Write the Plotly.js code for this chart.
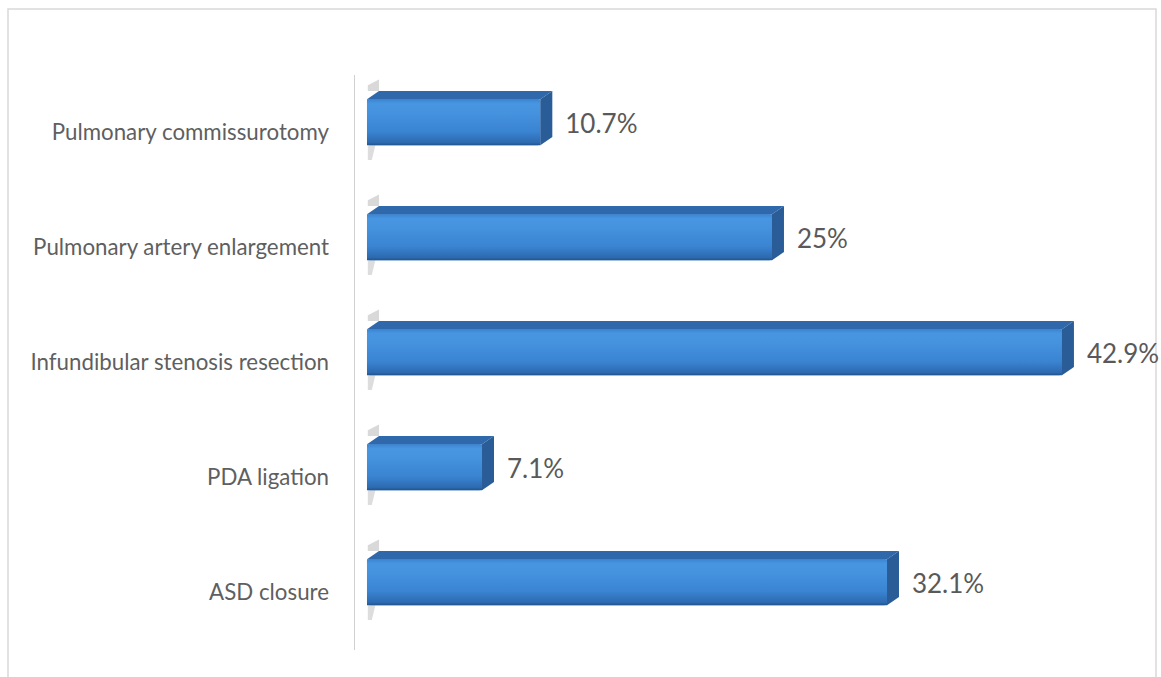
<!DOCTYPE html>
<html>
<head>
<meta charset="utf-8">
<script src="https://cdn.plot.ly/plotly-3.0.1.min.js"></script>
<style>html,body{margin:0;padding:0;background:#fff;}#chart{width:1161px;height:677px;}</style>
</head>
<body>
<div id="chart"></div>
<script>
// Data (bottom to top)
const categories = ['ASD closure', 'PDA ligation', 'Infundibular stenosis resection', 'Pulmonary artery enlargement', 'Pulmonary commissurotomy'];
const values = [32.1, 7.1, 42.9, 25, 10.7];
const valueLabels = ['32.1%', '7.1%', '42.9%', '25%', '10.7%'];

// 3D look parameters (in axis units)
const DX = 0.74, DY = 0.07, HALF = 0.2, SHIFT = 0.09;
const idx = categories.map((_, i) => i);
const centers = idx.map(i => i + SHIFT);

const traces = [];

// floor/wall shadows near left of each bar
idx.forEach(i => {
  const c = centers[i];
  traces.push({
    type: 'scatter', mode: 'lines', fill: 'toself', hoverinfo: 'skip', showlegend: false,
    x: [0.05, DX, DX, 0.05, 0.05], y: [c + HALF + DY, c + HALF + DY, c + HALF + DY + 0.1, c + HALF + 0.12, c + HALF + DY],
    line: {width: 0}, fillcolor: 'rgba(170,170,170,0.45)'
  });
  traces.push({
    type: 'scatter', mode: 'lines', fill: 'toself', hoverinfo: 'skip', showlegend: false,
    x: [0.05, DX * 0.7, DX * 0.4, 0.05, 0.05], y: [c - HALF, c - HALF, c - HALF - 0.13, c - HALF - 0.13, c - HALF],
    line: {width: 0}, fillcolor: 'rgba(170,170,170,0.4)'
  });
});

// front faces as bars
traces.push({
  type: 'bar', orientation: 'h', x: values, y: centers, base: 0, width: 2 * HALF,
  marker: {color: '#3f8ad8', line: {width: 0}, cornerradius: 3},
  hoverinfo: 'skip', showlegend: false
});

// gradient overlay on front faces, top and side faces
idx.forEach(i => {
  const c = centers[i], v = values[i];
  traces.push({
    type: 'scatter', mode: 'lines', fill: 'toself', hoverinfo: 'skip', showlegend: false,
    x: [0, v, v, 0, 0], y: [c - HALF, c - HALF, c + HALF, c + HALF, c - HALF],
    line: {width: 0},
    fillgradient: {type: 'vertical', start: c - HALF, stop: c + HALF,
      colorscale: [[0, '#22548f'], [0.06, '#2d6ab0'], [0.3, '#3a84d2'], [0.7, '#4592df'], [0.9, '#4896e2'], [1, '#3b84d0']]}
  });
  traces.push({
    type: 'scatter', mode: 'lines', fill: 'toself', hoverinfo: 'skip', showlegend: false,
    x: [0, v, v + DX, DX, 0], y: [c + HALF, c + HALF, c + HALF + DY, c + HALF + DY, c + HALF],
    line: {width: 0}, fillcolor: '#2f69ab'
  });
  traces.push({
    type: 'scatter', mode: 'lines', fill: 'toself', hoverinfo: 'skip', showlegend: false,
    x: [v, v + DX, v + DX, v, v], y: [c - HALF, c - HALF + DY, c + HALF + DY, c + HALF, c - HALF],
    line: {width: 0}, fillcolor: '#2a5d98'
  });
});

// value labels
traces.push({
  type: 'scatter', mode: 'text', showlegend: false, hoverinfo: 'skip', cliponaxis: false,
  x: values.map(v => v + DX + 0.8), y: idx.map(i => i + 0.05),
  text: valueLabels, textposition: 'middle right',
  textfont: {family: 'Lato, "Open Sans", sans-serif', size: 26, color: '#595959'}
});

const W = 795;
const layout = {
  width: 1161, height: 677,
  margin: {l: 355, r: 11, t: 75, b: 27},
  paper_bgcolor: '#ffffff', plot_bgcolor: '#ffffff',
  xaxis: {range: [-DX, -DX + W / 16.2], showgrid: false, zeroline: false, showticklabels: false, showline: false, ticks: ''},
  yaxis: {range: [-0.5, 4.5], tickvals: idx, ticktext: categories, showgrid: false, zeroline: false,
    showline: true, linecolor: '#d0d0d0', linewidth: 1.5, ticks: '', ticklabelstandoff: 20,
    tickfont: {family: 'Lato, "Open Sans", sans-serif', size: 22.3, color: '#5f5f5f'}},
  shapes: [{type: 'rect', xref: 'paper', yref: 'paper',
    x0: (8 - 355) / W, x1: (1156 - 355) / W, y0: (650 - 690) / 575, y1: (650 - 9) / 575,
    line: {color: '#d9d9d9', width: 1.5}, fillcolor: 'rgba(0,0,0,0)', layer: 'below'}],
  showlegend: false
};

Plotly.newPlot('chart', traces, layout, {displayModeBar: false, staticPlot: true});
</script>
</body>
</html>
